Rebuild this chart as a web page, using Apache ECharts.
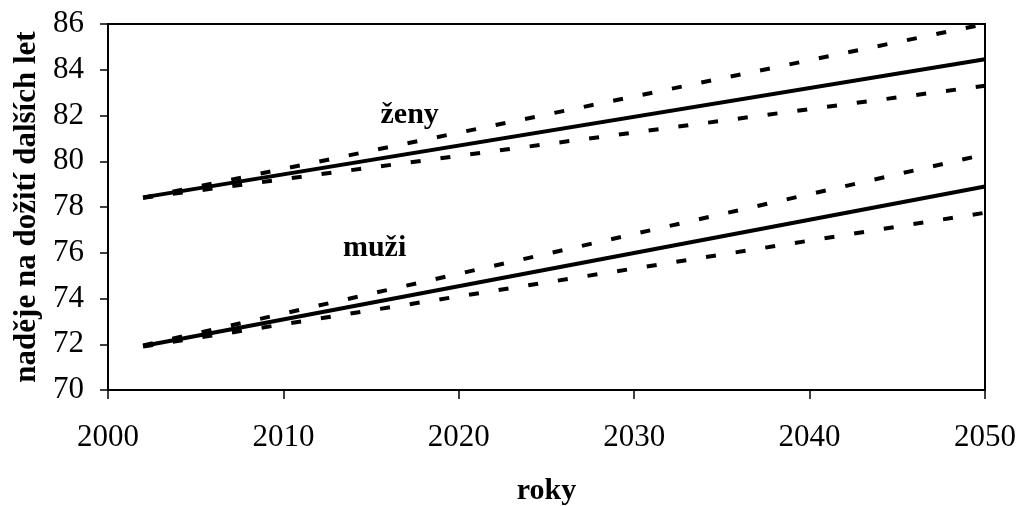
<!DOCTYPE html>
<html>
<head>
<meta charset="utf-8">
<script src="https://cdn.jsdelivr.net/npm/echarts@6/dist/echarts.min.js"></script>
<style>
html,body{margin:0;padding:0;background:#fff;}
#c{width:1020px;height:506px;}
</style>
</head>
<body>
<div id="c"></div>
<script>
var years = [2002, 2050];
var zenyHorni = [78.4, 86.0];
var zenyStredni = [78.42, 84.46];
var zenyDolni = [78.4, 83.3];
var muziHorni = [71.95, 80.3];
var muziStredni = [71.92, 78.9];
var muziDolni = [71.9, 77.75];
var seriesLabels = [
  {text: 'ženy', x: 2017.2, y: 82.0},
  {text: 'muži', x: 2015.2, y: 76.2}
];
var xTitle = 'roky';
var yTitle = 'naděje na dožití dalších let';

function pairs(vals) { return years.map(function (y, i) { return [y, vals[i]]; }); }

var FONT = '"Liberation Serif", "Times New Roman", serif';

function lineSeries(vals, dashed) {
  return {
    type: 'line',
    data: pairs(vals),
    symbol: 'none',
    silent: true,
    lineStyle: {color: '#000', width: 4, type: dashed ? [10, 20] : 'solid', cap: 'butt'},
    z: dashed ? 3 : 4
  };
}

var chart = echarts.init(document.getElementById('c'));
chart.setOption({
  animation: false,
  backgroundColor: '#fff',
  grid: {left: 108, right: 35, top: 24, bottom: 116, containLabel: false, outerBoundsMode: 'none', show: true, borderColor: '#000', borderWidth: 2, backgroundColor: 'transparent'},
  xAxis: {
    type: 'value', min: 2000, max: 2050, interval: 10,
    name: xTitle, nameLocation: 'middle', nameGap: 86,
    nameTextStyle: {fontFamily: FONT, fontSize: 30, fontWeight: 'bold', color: '#000'},
    axisLine: {show: true, lineStyle: {color: '#000', width: 2}},
    axisTick: {show: true, length: 9, lineStyle: {color: '#000', width: 1.5}},
    axisLabel: {fontFamily: FONT, fontSize: 31, color: '#000', margin: 32, formatter: function (v) { return String(v); }},
    splitLine: {show: false}
  },
  yAxis: {
    type: 'value', min: 70, max: 86, interval: 2,
    name: yTitle, nameLocation: 'middle', nameGap: 62,
    nameTextStyle: {fontFamily: FONT, fontSize: 31, fontWeight: 'bold', color: '#000'},
    axisLine: {show: true, lineStyle: {color: '#000', width: 2}},
    axisTick: {show: true, length: 8, lineStyle: {color: '#000', width: 1.5}},
    axisLabel: {fontFamily: FONT, fontSize: 31, color: '#000', margin: 24},
    splitLine: {show: false}
  },
  series: [
    lineSeries(zenyHorni, true),
    lineSeries(zenyStredni, false),
    lineSeries(zenyDolni, true),
    lineSeries(muziHorni, true),
    lineSeries(muziStredni, false),
    lineSeries(muziDolni, true),
    {
      type: 'scatter', symbolSize: 0, silent: true,
      itemStyle: {opacity: 1, color: '#000'},
      data: seriesLabels.map(function (d) { return {value: [d.x, d.y], name: d.text}; }),
      label: {show: true, position: 'inside', formatter: '{b}', fontFamily: FONT, fontSize: 30, fontWeight: 'bold', color: '#000', textBorderWidth: 0, opacity: 1}
    }
  ]
});
</script>
</body>
</html>
